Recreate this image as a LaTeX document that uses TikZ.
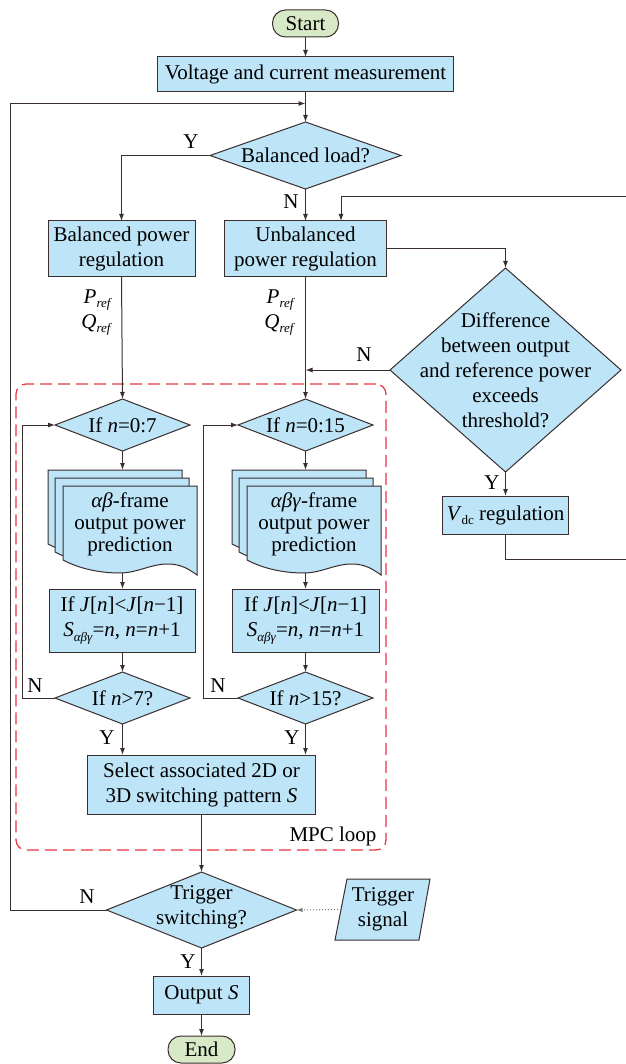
\documentclass[tikz,border=0pt]{standalone}
\usepackage{fontspec}
\setmainfont{Liberation Serif}
\usetikzlibrary{shapes.geometric,arrows.meta}
\definecolor{boxblue}{RGB}{189,228,247}
\definecolor{termgreen}{RGB}{215,233,199}
\definecolor{lncol}{RGB}{58,46,46}
\definecolor{mpcred}{RGB}{232,52,64}
\definecolor{dotgray}{RGB}{120,120,120}
\newcommand\fz{\fontsize{21}{25}\selectfont}
\newcommand\sbs[1]{\raisebox{-.45ex}{\fontsize{13}{13}\selectfont #1}}
\newcommand\docsheet{%
  \filldraw[sheet] (0,0) -- (134,0) -- (134,89)
   .. controls (122,80) and (114,78) .. (104,78)
   .. controls (88,78) and (74,87) .. (57,87)
   .. controls (35,87) and (15,82) .. (0,74) -- cycle;}
\begin{document}
\begin{tikzpicture}[x=1pt,y=-1pt,
  every node/.style={font=\fz, text=black, inner sep=0pt, outer sep=0pt},
  proc/.style={draw=lncol, line width=1pt, fill=boxblue, rectangle, align=center},
  term/.style={draw=lncol, line width=1pt, fill=termgreen, rectangle, rounded corners=13pt},
  dec/.style={draw=lncol, line width=1pt, fill=boxblue, diamond},
  sheet/.style={draw=lncol, line width=1pt, fill=boxblue},
  txt/.style={align=center},
  arr/.style={draw=lncol, line width=1pt, -{Latex[length=7pt,width=5pt]}},
]
\useasboundingbox (0,0) rectangle (625,1064);

% MPC loop frame
\node[draw=mpcred, line width=1.2pt, dash pattern=on 12pt off 6pt, rounded corners=10pt,
      minimum width=370, minimum height=466] (mpc) at (201,617) {};
\node (mpct) at (333,836) {MPC loop};

% main nodes
\node[term, minimum width=66, minimum height=27] (start) at (305.5,23.5) {Start};
\node[proc, minimum width=296, minimum height=35] (meas) at (305.5,74.5) {Voltage and current measurement};
\node[dec, minimum width=191, minimum height=67] (bal) at (305.5,155.5) {};
\node[txt] (balt) at (bal) {Balanced load?};
\node[proc, minimum width=147, minimum height=56] (balp) at (121.5,249) {Balanced power\\regulation};
\node[proc, minimum width=162, minimum height=56] (unbp) at (305.5,249) {Unbalanced\\power regulation};
\node[dec, minimum width=231, minimum height=204] (diff) at (505.5,370) {};
\node[txt] (difft) at (diff) {Difference\\between output\\and reference power\\exceeds\\threshold?};
\node[proc, minimum width=126, minimum height=38] (vdc) at (505.5,515) {\textit{V}\sbs{dc} regulation};

\node[dec, minimum width=135, minimum height=52] (if1) at (122.5,425) {};
\node[txt] (if1t) at (if1) {If \textit{n}=0:7};
\node[dec, minimum width=135, minimum height=52] (if2) at (305.5,425) {};
\node[txt] (if2t) at (if2) {If \textit{n}=0:15};

% multi-document shapes
\begin{scope}[shift={(48,470)}]\docsheet\end{scope}
\begin{scope}[shift={(55,478)}]\docsheet\end{scope}
\begin{scope}[shift={(63,486)}]\docsheet\end{scope}
\node[txt, font=\fontsize{21}{22}\selectfont] (doc1) at (130,524) {\textit{αβ}-frame\\output power\\prediction};
\begin{scope}[shift={(232,470)}]\docsheet\end{scope}
\begin{scope}[shift={(239,478)}]\docsheet\end{scope}
\begin{scope}[shift={(247,486)}]\docsheet\end{scope}
\node[txt, font=\fontsize{21}{22}\selectfont] (doc2) at (314,524) {\textit{αβγ}-frame\\output power\\prediction};
\coordinate (d1top) at (122.5,470);
\coordinate (d1bot) at (122.5,573);
\coordinate (d2top) at (305.5,470);
\coordinate (d2bot) at (305.5,573);

\node[proc, minimum width=146, minimum height=63] (j1) at (122,620.5)
  {If \textit{J}[\textit{n}]<\textit{J}[\textit{n}−1]\\\textit{S}\sbs{\textit{αβγ}}=\textit{n}, \textit{n}=\textit{n}+1};
\node[proc, minimum width=147, minimum height=63] (j2) at (305.5,620.5)
  {If \textit{J}[\textit{n}]<\textit{J}[\textit{n}−1]\\\textit{S}\sbs{\textit{αβγ}}=\textit{n}, \textit{n}=\textit{n}+1};

\node[dec, minimum width=135, minimum height=52] (n7) at (122.5,698) {};
\node[txt] (n7t) at (n7) {If \textit{n}>7?};
\node[dec, minimum width=135, minimum height=52] (n15) at (305.5,698) {};
\node[txt] (n15t) at (n15) {If \textit{n}>15?};

\node[proc, minimum width=228, minimum height=59] (sel) at (201.5,784.5) {Select associated 2D or\\3D switching pattern \textit{S}};

\node[dec, minimum width=190, minimum height=76] (trig) at (201.5,910) {};
\node[txt] (trigt) at (201.5,907) {Trigger\\switching?};

\filldraw[sheet] (347,879) -- (430,879) -- (419,940) -- (335,940) -- cycle;
\node[txt] (tsig) at (383,909) {Trigger\\signal};
\coordinate (tsigw) at (341,909.5);

\node[proc, minimum width=96, minimum height=38] (out) at (201.5,995) {Output \textit{S}};
\node[term, minimum width=67, minimum height=27] (stop) at (201.5,1049.5) {End};

% labels
\node[anchor=base east] (p1) at (112,303) {\textit{P}\sbs{\textit{ref}}};
\node[anchor=base east] (q1) at (112,328) {\textit{Q}\sbs{\textit{ref}}};
\node[anchor=base east] (p2) at (295,303) {\textit{P}\sbs{\textit{ref}}};
\node[anchor=base east] (q2) at (295,328) {\textit{Q}\sbs{\textit{ref}}};

\node (ly1) at (191,142) {Y};
\node (ln1) at (291,202) {N};
\node (ln2) at (364,355) {N};
\node (ly2) at (492,483) {Y};
\node (ln3) at (35,686) {N};
\node (ln4) at (218,686) {N};
\node (ly3) at (107,738) {Y};
\node (ly4) at (292,738) {Y};
\node (ln5) at (87,897) {N};
\node (ly5) at (188,962) {Y};

% connectors
\coordinate (j0) at (305.5,103.5);
\coordinate (fbx) at (341,197);
\draw[arr] (start) -- (meas);
\draw[arr] (meas) -- (bal);
\draw[arr] (trig.west) -- ++(-96.5,0) |- (j0);
\draw[arr] (bal.west) -| (balp.north);
\draw[arr] (bal) -- (unbp);
\draw[arr] (unbp.east) -| (diff.north);
\draw[arr] (vdc.south) |- (627,559) |- (fbx) -- (fbx |- unbp.north);
\draw[arr] (diff.west) -- (unbp.south |- diff.west);
\draw[arr] (diff) -- (vdc);
\draw[arr] (balp.south) -- (if1.north);
\draw[arr] (unbp.south) -- (if2.north);
\draw[arr] (if1.south) -- (d1top);
\draw[arr] (if2.south) -- (d2top);
\draw[arr] (d1bot) -- (j1.north -| d1bot);
\draw[arr] (d2bot) -- (j2.north -| d2bot);
\draw[arr] (j1.south -| n7) -- (n7.north);
\draw[arr] (j2.south -| n15) -- (n15.north);
\draw[arr] (n7.west) -- ++(-33,0) |- (if1.west);
\draw[arr] (n15.west) -- ++(-35,0) |- (if2.west);
\draw[arr] (n7.south) -- (n7.south |- sel.north);
\draw[arr] (n15.south) -- (n15.south |- sel.north);
\draw[arr] (sel) -- (trig);
\draw[draw=dotgray, line width=1pt, dotted, -{Latex[length=6pt,width=4.5pt]}] (tsigw) -- (trig.east);
\draw[arr] (trig) -- (out);
\draw[arr] (out) -- (stop);
\end{tikzpicture}
\end{document}
